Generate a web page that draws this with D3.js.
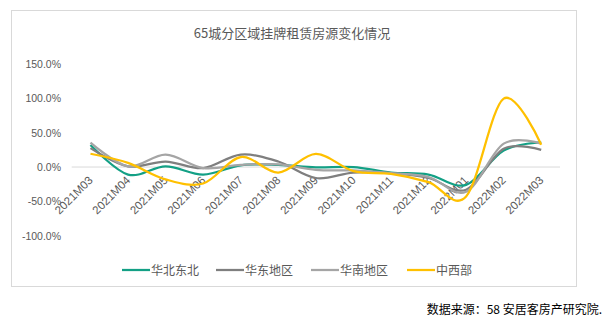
<!DOCTYPE html>
<html><head><meta charset="utf-8">
<script src="https://cdn.jsdelivr.net/npm/d3@7/dist/d3.min.js"></script>
<style>body{margin:0;background:#fff;} svg{display:block;}</style>
</head><body>
<svg id="c" width="605" height="322"></svg>
<script>
const categories = ["2021M03","2021M04","2021M05","2021M06","2021M07","2021M08","2021M09","2021M10","2021M11","2021M12","2022M01","2022M02","2022M03"];
const seriesNames = ["华北东北","华东地区","华南地区","中西部"];
const seriesColors = ["#13A085","#7F7F7F","#A5A5A5","#FFC000"];
const huabei = [32, -11, 1, -11, 2.5, 3, -0.5, 0, -8, -11, -26, 24, 36];
const huadong = [27.5, 1, 8, -1.5, 18, 8, -16, -8, -9, -16, -33, 26.5, 25];
const huanan = [35.5, 1, 18, -1.5, 3, 4, -4, -5, -9, -14.5, -36, 34, 34];
const zhongxi = [19.3, 6, -18, -24, 14.5, -8, 19, -6, -10, -22, -43, 99.5, 32.5];
const yTicks = [150, 100, 50, 0, -50, -100];
const allSeries = [huabei, huadong, huanan, zhongxi];

const svg = d3.select("#c");
const font = "'Noto Sans CJK SC','Microsoft YaHei',sans-serif";

svg.append("rect").attr("x",11.5).attr("y",10.5).attr("width",565).attr("height",276)
  .attr("fill","#fff").attr("stroke","#D9D9D9").attr("stroke-width",1);

svg.append("text").attr("x",292).attr("y",38).attr("text-anchor","middle")
  .attr("font-family",font).attr("font-size",13).attr("fill","#595959")
  .text("65城分区域挂牌租赁房源变化情况");

const x = d3.scaleBand().domain(categories).range([71.7,560]);
const y = d3.scaleLinear().domain([-100,150]).range([235.7,64]);

// y axis labels
const yAxis = d3.axisLeft(y).tickValues(yTicks).tickSize(0).tickPadding(0)
  .tickFormat(d => d.toFixed(1) + "%");
const yg = svg.append("g").attr("transform","translate(61,0)").call(yAxis);
yg.select(".domain").remove();
yg.selectAll("text").attr("font-family","'Liberation Sans',Arial,sans-serif").attr("font-size",10.5).attr("fill","#595959");

// zero line
svg.append("line").attr("x1",x.range()[0]).attr("x2",x.range()[1])
  .attr("y1",y(0)).attr("y2",y(0)).attr("stroke","#D9D9D9").attr("stroke-width",1);

// x labels
const cx = d => x(d) + x.bandwidth()/2;
svg.append("g").selectAll("text").data(categories).join("text")
  .attr("transform", d => `translate(${cx(d)+3},${y(0)+14}) rotate(-45)`)
  .attr("text-anchor","end").attr("font-family","'Liberation Sans',Arial,sans-serif")
  .attr("font-size",11.5).attr("fill","#595959").text(d => d);

// lines
const line = d3.line().x((d,i) => cx(categories[i])).y(d => y(d)).curve(d3.curveCatmullRom.alpha(0));
allSeries.forEach((s,k) => {
  svg.append("path").datum(s).attr("d", line).attr("fill","none")
    .attr("stroke", seriesColors[k]).attr("stroke-width",2.25).attr("stroke-linejoin","round");
});

// legend
const legX = [122, 216, 311, 407];
seriesNames.forEach((n,k) => {
  const g = svg.append("g").attr("transform",`translate(${legX[k]},270)`);
  g.append("line").attr("x1",0).attr("x2",28).attr("y1",0).attr("y2",0)
    .attr("stroke",seriesColors[k]).attr("stroke-width",2.25);
  g.append("text").attr("x",29).attr("y",4.5).attr("font-family",font)
    .attr("font-size",12).attr("fill","#595959").text(n);
});

svg.append("text").attr("x",602).attr("y",314).attr("text-anchor","end")
  .attr("font-family",font).attr("font-size",12).attr("fill","#000")
  .text("数据来源：58 安居客房产研究院.");
</script>
</body></html>
